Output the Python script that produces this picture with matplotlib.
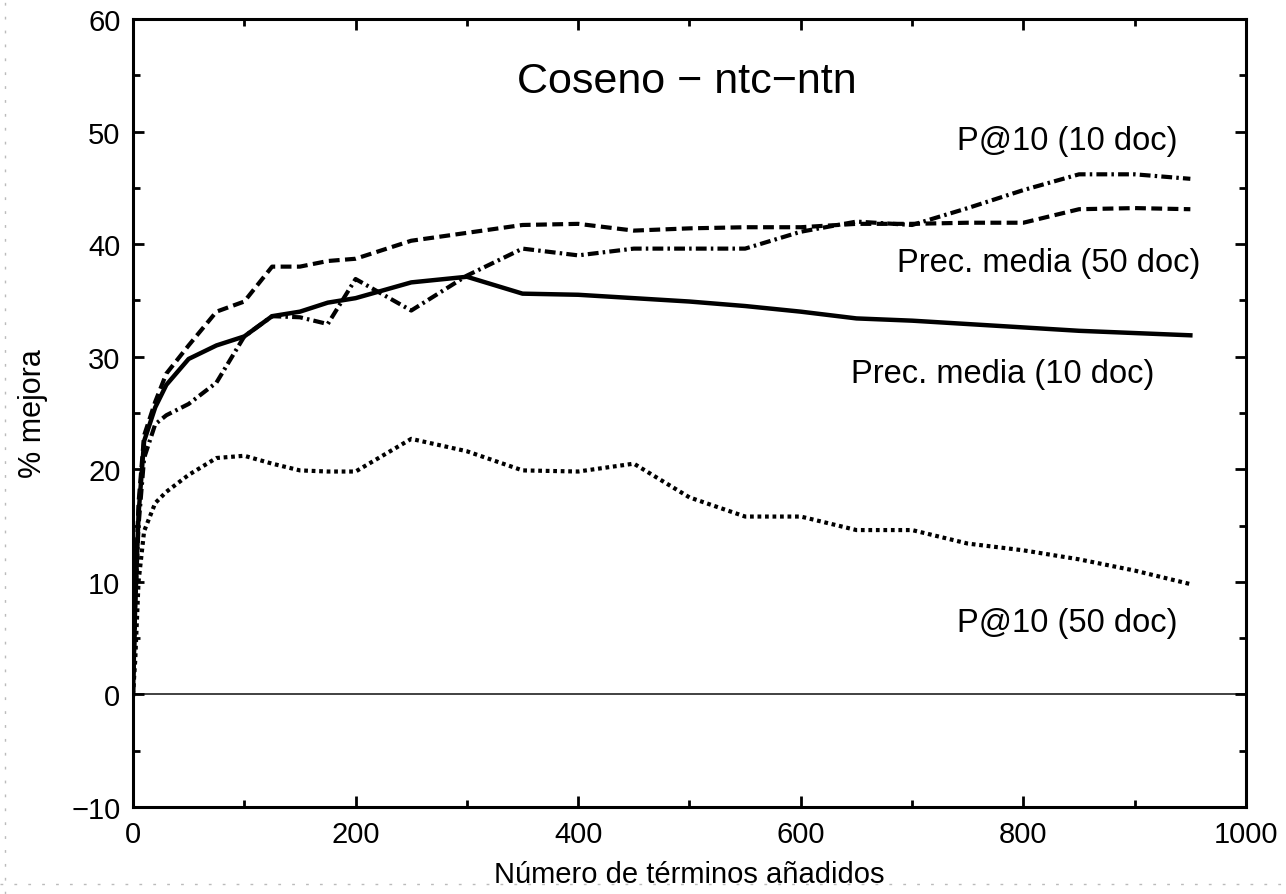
import numpy as np
import matplotlib.pyplot as plt
from matplotlib.lines import Line2D
from matplotlib.ticker import MultipleLocator

plt.rcParams['font.family'] = ['Liberation Sans', 'DejaVu Sans']

terms = [0, 2, 5, 10, 20, 30, 50, 75, 100, 125, 150, 175, 200, 250, 300, 350,
         400, 450, 500, 550, 600, 650, 700, 750, 800, 850, 900, 950]

prec_media_10 = [0, 8, 16, 22.5, 25.5, 27.5, 29.8, 31.0, 31.8, 33.6, 34.0, 34.8, 35.2, 36.6,
                 37.1, 35.6, 35.5, 35.2, 34.9, 34.5, 34.0, 33.4, 33.2, 32.9, 32.6, 32.3, 32.1, 31.9]
prec_media_50 = [0, 9, 17, 23, 26, 28.5, 31.0, 34.0, 34.9, 38.0, 38.0, 38.5, 38.7, 40.3,
                 41.0, 41.7, 41.8, 41.2, 41.4, 41.5, 41.5, 41.8, 41.8, 41.9, 41.9, 43.1, 43.2, 43.1]
p10_10 = [0, 8, 15, 21, 24, 24.8, 25.8, 27.7, 31.8, 33.6, 33.5, 32.9, 36.9, 34.1,
          37.2, 39.6, 39.0, 39.6, 39.6, 39.6, 41.1, 42.0, 41.7, 43.2, 44.8, 46.2, 46.2, 45.8]
p10_50 = [0, 3, 10, 14.5, 17.0, 18.0, 19.5, 21.0, 21.2, 20.5, 19.9, 19.8, 19.8, 22.7,
          21.6, 19.9, 19.8, 20.5, 17.5, 15.8, 15.8, 14.6, 14.6, 13.4, 12.8, 12.0, 11.0, 9.8]

fig = plt.figure(figsize=(12.86, 8.95), dpi=100)
ax = fig.add_axes([0.1034, 0.0972, 0.8655, 0.8805])

ax.axhline(0, color='#333333', lw=1.3, zorder=1)
ax.plot(terms, prec_media_10, color='black', lw=3.2, solid_joinstyle='round')
ax.plot(terms, prec_media_50, color='black', lw=3.0, dashes=(2.6, 1.3))
ax.plot(terms, p10_10, color='black', lw=3.0, dashes=(2.6, 1.0, 0.6, 1.0))
ax.plot(terms, p10_50, color='black', lw=3.0, dashes=(0.9, 0.9))

ax.set_xlim(0, 1000)
ax.set_ylim(-10, 60)
ax.xaxis.set_major_locator(MultipleLocator(200))
ax.xaxis.set_minor_locator(MultipleLocator(100))
ax.yaxis.set_major_locator(MultipleLocator(10))
ax.yaxis.set_minor_locator(MultipleLocator(5))
ax.tick_params(which='both', direction='in', top=True, right=True, width=2, labelsize=21, pad=9)
ax.tick_params(which='major', length=8)
ax.tick_params(which='minor', length=5)
ax.set_yticklabels(['\u221210' if v < 0 else str(int(v)) for v in ax.get_yticks()])
for s in ax.spines.values():
    s.set_linewidth(2.2)

ax.text(498, 54.5, 'Coseno \u2212 ntc\u2212ntn', fontsize=31, ha='center', va='center')
ax.text(839, 49.2, 'P@10 (10 doc)', fontsize=23.5, ha='center', va='center')
ax.text(823, 38.4, 'Prec. media (50 doc)', fontsize=23.5, ha='center', va='center')
ax.text(781, 28.5, 'Prec. media (10 doc)', fontsize=23.5, ha='center', va='center')
ax.text(839, 6.4, 'P@10 (50 doc)', fontsize=23.5, ha='center', va='center')

ax.set_xlabel('Número de términos añadidos', fontsize=21, labelpad=9)
ax.set_ylabel('% mejora', fontsize=22, labelpad=17)

# faint dotted page edges seen in the scan
fig.add_artist(Line2D([0.004, 0.004], [0.0, 1.0], transform=fig.transFigure,
                      color='#bbbbbb', lw=1, ls=(0, (2, 8))))
fig.add_artist(Line2D([0.0, 1.0], [0.011, 0.011], transform=fig.transFigure,
                      color='#bbbbbb', lw=1, ls=(0, (2, 8))))

plt.savefig('out.png', dpi=100)
